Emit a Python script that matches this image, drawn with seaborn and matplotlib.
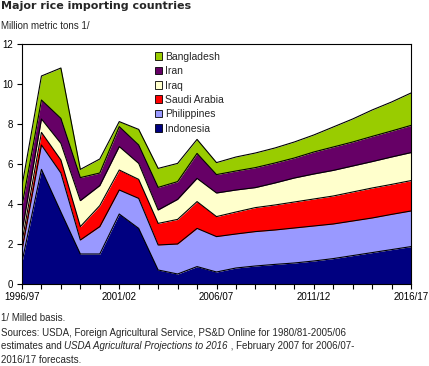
import matplotlib
matplotlib.use("Agg")
import matplotlib.pyplot as plt
from matplotlib.patches import Patch
import seaborn as sns
import pandas as pd

seasons = ["1996/97", "1997/98", "1998/99", "1999/00", "2000/01", "2001/02", "2002/03",
           "2003/04", "2004/05", "2005/06", "2006/07", "2007/08", "2008/09", "2009/10",
           "2010/11", "2011/12", "2012/13", "2013/14", "2014/15", "2015/16", "2016/17"]

# million metric tons, milled basis
indonesia = [1.1, 5.73, 3.6, 1.5, 1.5, 3.5, 2.78, 0.7, 0.5, 0.87, 0.6,
             0.8, 0.9, 0.98, 1.05, 1.15, 1.27, 1.42, 1.57, 1.72, 1.87]
philippines = [0.6, 1.22, 1.95, 0.7, 1.37, 1.2, 1.5, 1.25, 1.5, 1.91, 1.77,
               1.7, 1.72, 1.72, 1.75, 1.75, 1.73, 1.73, 1.73, 1.76, 1.78]
saudi_arabia = [0.4, 0.63, 0.65, 0.67, 1.05, 1.0, 0.95, 1.08, 1.23, 1.34, 1.0,
                1.1, 1.2, 1.25, 1.3, 1.35, 1.4, 1.45, 1.5, 1.5, 1.52]
iraq = [0.5, 0.67, 0.83, 1.3, 1.0, 1.17, 0.8, 0.67, 1.0, 1.16, 1.18,
        1.1, 1.0, 1.1, 1.2, 1.25, 1.28, 1.3, 1.32, 1.37, 1.4]
iran = [1.3, 0.95, 1.25, 1.15, 0.63, 1.0, 0.92, 1.13, 0.89, 1.25, 0.92,
        0.95, 1.0, 1.0, 1.0, 1.1, 1.17, 1.2, 1.26, 1.3, 1.36]
bangladesh = [1.0, 1.2, 2.52, 0.41, 0.7, 0.25, 0.78, 0.95, 0.91, 0.7, 0.6,
              0.7, 0.73, 0.75, 0.8, 0.85, 1.0, 1.15, 1.32, 1.45, 1.62]

countries = ["Indonesia", "Philippines", "Saudi Arabia", "Iraq", "Iran", "Bangladesh"]
colors = ["#000080", "#9999FF", "#FF0000", "#FFFFCC", "#660066", "#99CC00"]

df = pd.DataFrame({"Indonesia": indonesia, "Philippines": philippines,
                   "Saudi Arabia": saudi_arabia, "Iraq": iraq, "Iran": iran,
                   "Bangladesh": bangladesh})
df["x"] = range(len(seasons))
cum = df[countries].cumsum(axis=1)
cum["x"] = df["x"]
long = cum.melt(id_vars="x", var_name="country", value_name="top")

sns.set_theme(style="ticks")
plt.rcParams["font.family"] = ["Liberation Sans", "DejaVu Sans"]

fig = plt.figure(figsize=(4.29, 3.66), dpi=100)
ax = fig.add_axes([22 / 429, 82 / 366, 389 / 429, 240 / 366])

lower = [0.0] * len(seasons)
for name, col in zip(countries, colors):
    ax.fill_between(df["x"], lower, cum[name], color=col, linewidth=0)
    lower = cum[name]

sns.lineplot(data=long, x="x", y="top", hue="country",
             palette=["black"] * len(countries), linewidth=0.8,
             legend=False, ax=ax)

ax.set_xlim(0, 20)
ax.set_ylim(0, 12)
ax.set_yticks(range(0, 13, 2))
ax.set_xticks(df["x"])
ax.set_xticklabels([s if i % 5 == 0 else "" for i, s in enumerate(seasons)])
ax.set_xlabel("")
ax.set_ylabel("")
for sp in ax.spines.values():
    sp.set_visible(True)
    sp.set_color("black")
    sp.set_linewidth(0.8)
ax.tick_params(direction="out", length=3.5, width=0.8, labelsize=7,
               colors="black", pad=2)
ax.tick_params(axis="y", pad=3)

handles = [Patch(facecolor=c, edgecolor="black", linewidth=0.6, label=n)
           for n, c in zip(countries, colors)][::-1]
ax.legend(handles=handles, loc="upper left", bbox_to_anchor=(0.33, 0.985),
          frameon=False, fontsize=7.5, handlelength=0.75, handleheight=0.75,
          handletextpad=0.3, labelspacing=0.42, borderaxespad=0)

fig.text(1 / 429, 1 - 6 / 366, "Major rice importing countries",
         family="DejaVu Sans", weight="bold", fontsize=8, va="center")
fig.text(1 / 429, 1 - 26 / 366, "Million metric tons 1/", fontsize=7, va="center")

fig.text(1 / 429, 1 - 318 / 366, "1/ Milled basis.", fontsize=7, va="center")
fig.text(1 / 429, 1 - 333 / 366,
         "Sources: USDA, Foreign Agricultural Service, PS&D Online for 1980/81-2005/06",
         fontsize=7, va="center")
renderer = fig.canvas.get_renderer()
t1 = fig.text(1 / 429, 1 - 346 / 366, "estimates and ", fontsize=7, va="center")
x1 = t1.get_window_extent(renderer).x1
t2 = fig.text(x1 / 429, 1 - 346 / 366, "USDA Agricultural Projections to 2016",
              fontsize=7, style="italic", va="center")
x2 = t2.get_window_extent(renderer).x1
fig.text(x2 / 429, 1 - 346 / 366, " , February 2007 for 2006/07-",
         fontsize=7, va="center")
fig.text(1 / 429, 1 - 360 / 366, "2016/17 forecasts.", fontsize=7, va="center")

fig.savefig("out.png", dpi=100)
